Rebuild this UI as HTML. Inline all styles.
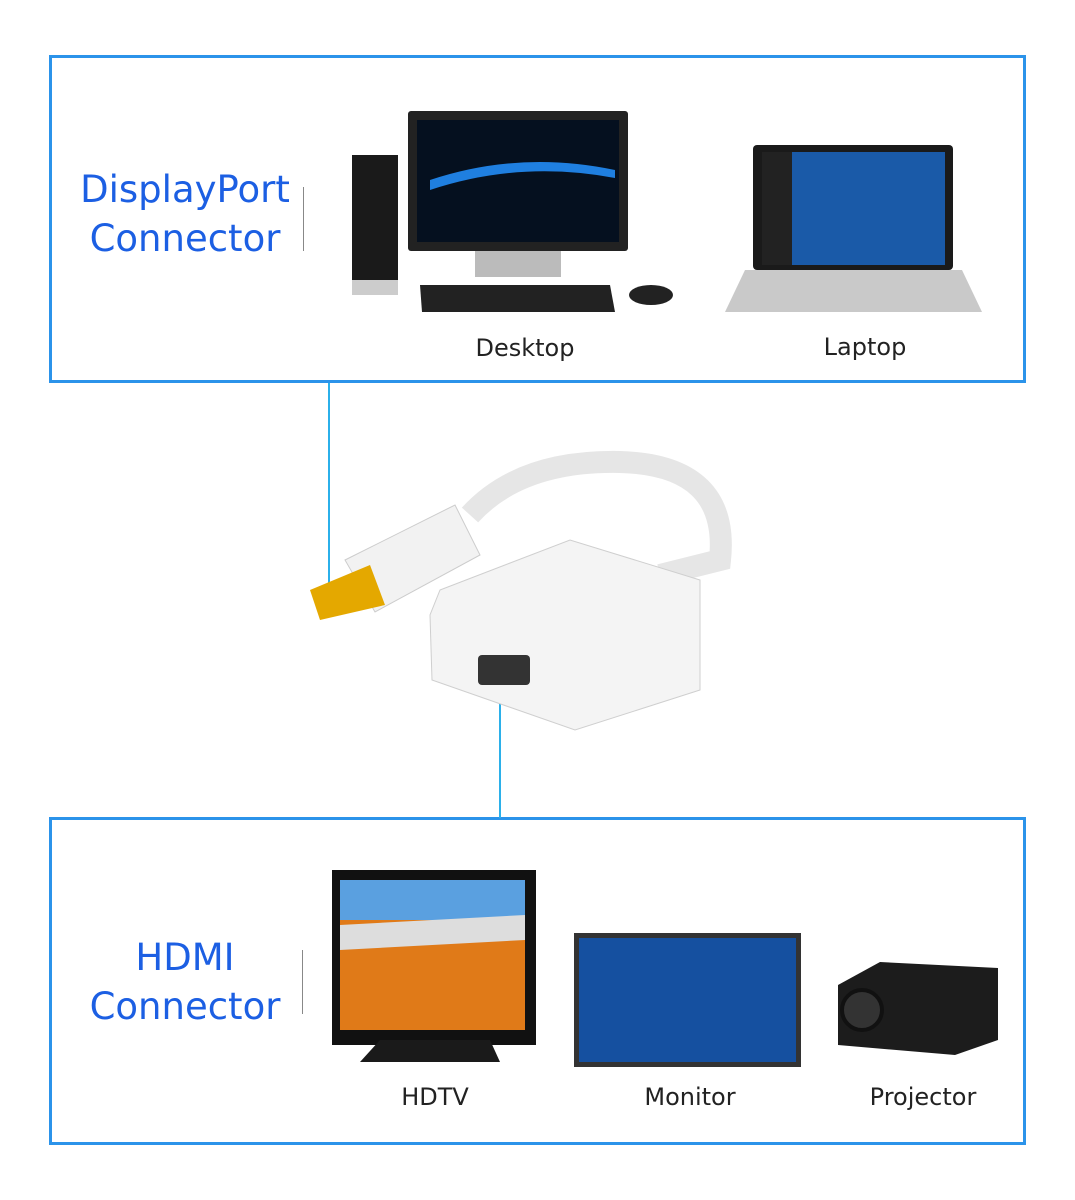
<!DOCTYPE html>
<html><head><meta charset="utf-8"><style>
body{margin:0;width:1075px;height:1200px;background:#fff;position:relative;overflow:hidden;font-family:"DejaVu Sans","Liberation Sans",sans-serif}
.box{position:absolute;border:3px solid #2b93ea;box-sizing:border-box}
.t{position:absolute;color:#1c5fe3;font-size:37px;text-align:center;line-height:49px}
.l{position:absolute;font-size:24px;color:#222;text-align:center}
.v{position:absolute;width:2px;background:#2bb0ea}
.sep{position:absolute;width:1px;background:#888}
</style></head><body>
<div class="box" style="left:49px;top:55px;width:977px;height:328px"></div>
<div class="box" style="left:49px;top:817px;width:977px;height:328px"></div>
<div class="t" style="left:60px;top:165px;width:250px">DisplayPort<br>Connector</div>
<div class="t" style="left:60px;top:933px;width:250px">HDMI<br>Connector</div>
<div class="sep" style="left:303px;top:187px;height:64px"></div>
<div class="sep" style="left:302px;top:950px;height:64px"></div>
<div class="v" style="left:328px;top:383px;height:205px"></div>
<div class="v" style="left:499px;top:700px;height:118px"></div>
<div class="l" style="left:440px;top:334px;width:170px">Desktop</div>
<div class="l" style="left:780px;top:333px;width:170px">Laptop</div>
<div class="l" style="left:350px;top:1083px;width:170px">HDTV</div>
<div class="l" style="left:605px;top:1083px;width:170px">Monitor</div>
<div class="l" style="left:838px;top:1083px;width:170px">Projector</div>
<svg width="1075" height="1200" style="position:absolute;left:0;top:0">
<rect x="352" y="155" width="46" height="140" fill="#1a1a1a"/>
<rect x="352" y="280" width="46" height="15" fill="#ccc"/>
<rect x="408" y="111" width="220" height="140" rx="3" fill="#222"/>
<rect x="417" y="120" width="202" height="122" fill="#05101f"/>
<path d="M430 180 Q520 150 615 170 L615 178 Q520 160 430 190Z" fill="#1f7fe0"/>
<rect x="475" y="251" width="86" height="26" fill="#bbb"/>
<polygon points="420,285 610,285 615,312 422,312" fill="#222"/>
<ellipse cx="651" cy="295" rx="22" ry="10" fill="#222"/>
<rect x="753" y="145" width="200" height="125" rx="4" fill="#1a1a1a"/>
<rect x="762" y="152" width="183" height="113" fill="#1a5aa8"/>
<rect x="762" y="152" width="30" height="113" fill="#222"/>
<polygon points="745,270 962,270 982,312 725,312" fill="#c9c9c9"/>
<path d="M470 515 Q520 460 620 462 Q730 465 720 560 L660 575" fill="none" stroke="#e6e6e6" stroke-width="22"/>
<polygon points="345,560 455,505 480,555 375,612" fill="#f2f2f2" stroke="#ccc"/>
<polygon points="310,590 370,565 385,605 320,620" fill="#e4a800"/>
<polygon points="440,590 570,540 700,580 700,690 575,730 432,680 430,615" fill="#f4f4f4" stroke="#cfcfcf"/>
<rect x="478" y="655" width="52" height="30" rx="4" fill="#333"/>
<rect x="332" y="870" width="204" height="175" fill="#111"/>
<rect x="340" y="880" width="185" height="150" fill="#e07a18"/>
<rect x="340" y="880" width="185" height="40" fill="#5aa0e0"/>
<polygon points="340,925 525,915 525,940 340,950" fill="#ddd"/>
<polygon points="380,1040 490,1040 500,1062 360,1062" fill="#1a1a1a"/>
<rect x="574" y="933" width="227" height="134" fill="#333"/>
<rect x="579" y="938" width="217" height="124" fill="#1550a0"/>
<polygon points="838,985 880,962 998,968 998,1040 955,1055 838,1045" fill="#1c1c1c"/>
<circle cx="862" cy="1010" r="20" fill="#333" stroke="#111" stroke-width="4"/>
</svg>
</body></html>
